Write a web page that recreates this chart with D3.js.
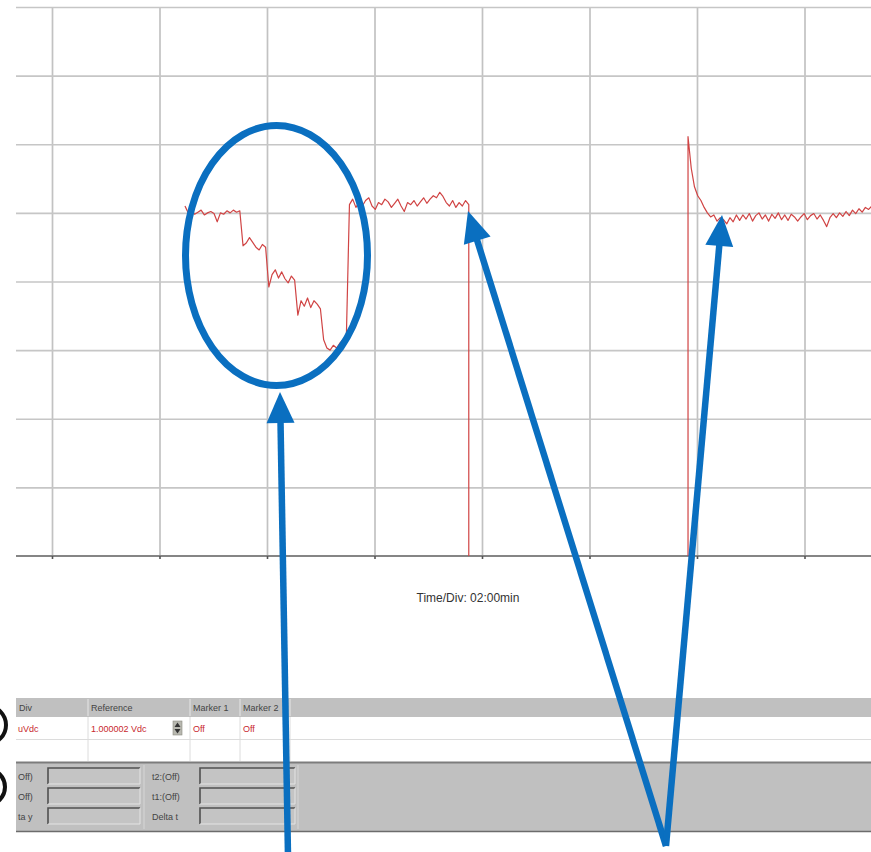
<!DOCTYPE html>
<html><head><meta charset="utf-8">
<script src="https://cdn.jsdelivr.net/npm/d3@7"></script>
<style>html,body{margin:0;padding:0;background:#fff;} svg{display:block}</style>
</head><body><svg id="c" width="871" height="852"></svg>
<script>
// ---------- data ----------
const timeGridMinutes = [2, 4, 6, 8, 10, 12, 14, 16];
const voltGridDivs = [-4, -3, -2, -1, 0, 1, 2, 3, 4];
const sampleStepMin = 0.06;
const segAStartMin = 4.474;
const segBStartMin = 13.833;
const offScaleLow = -4;
const segAValues = [
  1.1, 1.0, 1.03, 0.98, 1.01, 1.04, 0.97, 1.0, 1.02, 0.99, 0.87, 1.0, 0.98, 1.03, 1.0, 1.04, 1.01, 1.03,
  0.52, 0.56, 0.64, 0.57, 0.5, 0.46, 0.54, 0.5,
  -0.08, 0.1, 0.17, 0.05, 0.14, 0.04, -0.02, 0.08, 0.02,
  -0.49, -0.28, -0.36, -0.24, -0.38, -0.28, -0.33, -0.4,
  -0.85, -0.97, -1.0, -0.93, -0.97, -0.9, -0.85, -0.88,
  1.12, 1.2, 1.08, 1.15, 1.1, 1.18, 1.22, 1.1, 1.05, 1.15, 1.12, 1.2, 1.16, 1.08, 1.14, 1.2, 1.1, 1.02, 1.15,
  1.12, 1.18, 1.1, 1.16, 1.22, 1.14, 1.2, 1.25, 1.22, 1.3, 1.24, 1.15, 1.1, 1.18, 1.08, 1.15, 1.1, 1.18, 1.12
];
const segBValues = [
  2.11, 1.65, 1.38, 1.25, 1.18, 1.08, 1.0, 0.94, 0.97, 0.88, 0.93, 0.9, 0.84, 0.93, 0.87, 0.97, 0.89, 0.97, 0.91, 0.99,
  0.88, 0.96, 1.0, 0.91, 0.97, 0.88, 0.98, 0.92, 1.0, 0.9, 0.97, 0.89, 0.98, 0.94, 0.88, 0.94, 0.99, 0.9, 0.96, 0.99,
  0.91, 0.97, 0.89, 0.8, 0.93, 0.99, 0.93, 1.0, 0.95, 1.02, 0.96, 1.04, 0.99, 1.06, 1.01, 1.08, 1.05, 1.1
];
const timeDivLabel = "Time/Div: 02:00min";
const headerLabels = ["Div", "Reference", "Marker 1", "Marker 2"];
const rowValues = ["uVdc", "1.000002 Vdc", "Off", "Off"];
const leftLabels = ["Off)", "Off)", "ta y"];
const rightLabels = ["t2:(Off)", "t1:(Off)", "Delta t"];

// ---------- layout ----------
const svg = d3.select("#c");
const P = {left: 16, right: 871, top: 7, bottom: 556};
const x = d3.scaleLinear().domain([1.3302, 17.2372]).range([P.left, P.right]);
const y = d3.scaleLinear().domain([-4, 4]).range([P.bottom, P.top]);

svg.append("defs").append("clipPath").attr("id", "plotClip")
  .append("rect").attr("x", P.left).attr("y", P.top - 2).attr("width", P.right - P.left).attr("height", P.bottom - P.top + 2);

// grid
const gx = svg.append("g").attr("transform", `translate(0,${P.bottom})`)
  .call(d3.axisBottom(x).tickValues(timeGridMinutes).tickSize(-(P.bottom - P.top)).tickFormat(""));
gx.select(".domain").remove();
gx.selectAll("line").attr("stroke", "#c2c2c2").attr("stroke-width", 1.7);
const gy = svg.append("g").attr("transform", `translate(${P.left},0)`)
  .call(d3.axisLeft(y).tickValues(voltGridDivs.filter(d => d > -4)).tickSize(-(P.right - P.left)).tickFormat(""));
gy.select(".domain").remove();
gy.selectAll("line").attr("stroke", "#c6c6c6").attr("stroke-width", 1.7);

// bottom axis
svg.append("line").attr("x1", P.left).attr("x2", P.right).attr("y1", y(-4)).attr("y2", y(-4))
  .attr("stroke", "#858585").attr("stroke-width", 2.2);
const tk = svg.append("g").attr("transform", `translate(0,${P.bottom})`)
  .call(d3.axisBottom(x).tickValues(timeGridMinutes).tickSize(3).tickFormat(""));
tk.select(".domain").remove();
tk.selectAll("line").attr("stroke", "#555").attr("stroke-width", 1.6);

// trace
const ptsA = segAValues.map((v, i) => [segAStartMin + i * sampleStepMin, v]);
ptsA.push([ptsA[ptsA.length - 1][0], offScaleLow]);
const ptsB = [[segBStartMin, offScaleLow]].concat(segBValues.map((v, i) => [segBStartMin + i * sampleStepMin, v]));
const line = d3.line().x(d => x(d[0])).y(d => y(d[1]));
const tr = svg.append("g").attr("clip-path", "url(#plotClip)");
[ptsA, ptsB].forEach(p => {
  tr.append("path").attr("d", line(p)).attr("fill", "none")
    .attr("stroke", "#d04444").attr("stroke-width", 1.2).attr("stroke-linejoin", "round");
});

// time/div label
svg.append("text").attr("x", 468).attr("y", 602).attr("text-anchor", "middle")
  .attr("font-family", "Liberation Sans, Arial, sans-serif").attr("font-size", 12).attr("fill", "#333")
  .text(timeDivLabel);

// ---------- bottom panel ----------
const F = "Liberation Sans, Arial, sans-serif";
const pan = svg.append("g");
pan.append("rect").attr("x", 16).attr("y", 698).attr("width", 855).attr("height", 19).attr("fill", "#c0c0c0");
pan.append("rect").attr("x", 16).attr("y", 717).attr("width", 855).attr("height", 44).attr("fill", "#fff");
pan.append("line").attr("x1", 16).attr("x2", 871).attr("y1", 739.5).attr("y2", 739.5).attr("stroke", "#dcdcdc");
const colX = [88, 190, 240, 290];
colX.forEach(cx => {
  pan.append("line").attr("x1", cx).attr("x2", cx).attr("y1", 699).attr("y2", 716).attr("stroke", "#e6e6e6");
  pan.append("line").attr("x1", cx).attr("x2", cx).attr("y1", 717).attr("y2", 761).attr("stroke", "#dcdcdc");
});
const textX = [19, 91, 193, 243];
headerLabels.forEach((t, i) => {
  pan.append("text").attr("x", textX[i]).attr("y", 711)
    .attr("font-family", F).attr("font-size", 9).attr("fill", "#444").text(t);
});
const rowX = [18, 91, 193, 243];
rowValues.forEach((t, i) => {
  pan.append("text").attr("x", rowX[i]).attr("y", 732)
    .attr("font-family", F).attr("font-size", 9).attr("fill", "#c8282e").text(t);
});
// spinner
pan.append("rect").attr("x", 173).attr("y", 721).attr("width", 9).attr("height", 14).attr("fill", "#b8b8b0").attr("stroke", "#8a8a80").attr("stroke-width", 0.6);
pan.append("path").attr("d", "M174.5,727 L177.5,722.5 L180.5,727 Z").attr("fill", "#333");
pan.append("path").attr("d", "M174.5,729 L177.5,733.5 L180.5,729 Z").attr("fill", "#333");

// lower gray panel
pan.append("rect").attr("x", 16).attr("y", 762).attr("width", 855).attr("height", 70).attr("fill", "#c0c0c0");
pan.append("line").attr("x1", 16).attr("x2", 871).attr("y1", 762.5).attr("y2", 762.5).attr("stroke", "#7c7c7c").attr("stroke-width", 2);
pan.append("line").attr("x1", 16).attr("x2", 871).attr("y1", 831.5).attr("y2", 831.5).attr("stroke", "#6c6c6c").attr("stroke-width", 1.6);
pan.append("line").attr("x1", 144).attr("x2", 144).attr("y1", 765).attr("y2", 829).attr("stroke", "#d6d6d6");
pan.append("line").attr("x1", 298).attr("x2", 298).attr("y1", 765).attr("y2", 829).attr("stroke", "#d6d6d6");
const rowY = [768, 788, 808];
function box(bx, by, bw, bh) {
  pan.append("rect").attr("x", bx).attr("y", by).attr("width", bw).attr("height", bh).attr("fill", "#c4c4c4");
  pan.append("path").attr("d", `M${bx},${by + bh} L${bx},${by} L${bx + bw},${by}`).attr("fill", "none").attr("stroke", "#505050").attr("stroke-width", 1.6);
  pan.append("path").attr("d", `M${bx + bw},${by} L${bx + bw},${by + bh} L${bx},${by + bh}`).attr("fill", "none").attr("stroke", "#e4e4e4").attr("stroke-width", 1);
}
rowY.forEach((ry, i) => {
  box(48, ry, 92, 16);
  box(200, ry, 95, 16);
  pan.append("text").attr("x", 18).attr("y", ry + 11.5)
    .attr("font-family", F).attr("font-size", 9).attr("fill", "#444").text(leftLabels[i]);
  pan.append("text").attr("x", 152).attr("y", ry + 11.5)
    .attr("font-family", F).attr("font-size", 9).attr("fill", "#444").text(rightLabels[i]);
});

// left black arcs (cut-off circled markers)
svg.append("circle").attr("cx", -13).attr("cy", 725).attr("r", 19).attr("fill", "none").attr("stroke", "#111").attr("stroke-width", 4);
svg.append("circle").attr("cx", -13).attr("cy", 787).attr("r", 18).attr("fill", "none").attr("stroke", "#111").attr("stroke-width", 4);

// ---------- blue annotations ----------
const blue = "#0a6fc0";
svg.append("ellipse").attr("cx", 276.5).attr("cy", 255.5).attr("rx", 91).attr("ry", 130)
  .attr("fill", "none").attr("stroke", blue).attr("stroke-width", 7);
const arrows = [
  {from: [288, 856], to: [280, 392]},
  {from: [666, 846], to: [468, 211]},
  {from: [666, 846], to: [722, 215]}
];
arrows.forEach(a => {
  const dx = a.to[0] - a.from[0], dy = a.to[1] - a.from[1];
  const L = Math.hypot(dx, dy), ux = dx / L, uy = dy / L;
  const hl = 31, hw = 14;
  const bx = a.to[0] - ux * hl, by = a.to[1] - uy * hl;
  svg.append("line").attr("x1", a.from[0]).attr("y1", a.from[1]).attr("x2", bx + ux * 2).attr("y2", by + uy * 2)
    .attr("stroke", blue).attr("stroke-width", 6.5);
  svg.append("path").attr("d", `M${a.to[0]},${a.to[1]} L${bx - uy * hw},${by + ux * hw} L${bx + uy * hw},${by - ux * hw} Z`)
    .attr("fill", blue);
});
</script></body></html>
